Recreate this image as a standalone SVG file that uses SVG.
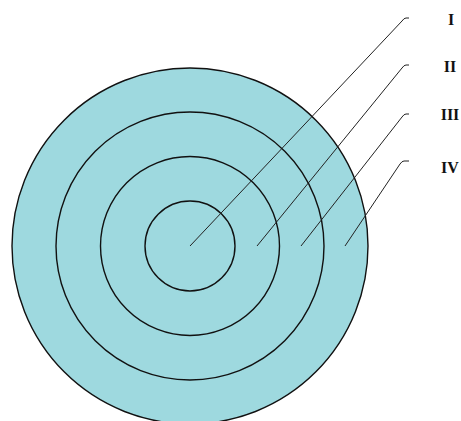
<svg xmlns="http://www.w3.org/2000/svg" width="461" height="421" viewBox="0 0 461 421">
<style>
.ring{fill:none;stroke:#111;stroke-width:1.4}
.lead{fill:none;stroke:#222;stroke-width:1}
.lbl{font-family:"Liberation Serif",serif;font-weight:bold;font-size:16px;fill:#111;text-anchor:middle}
</style>
<rect width="461" height="421" fill="#fff"/>
<g id="disc">
<circle cx="190" cy="246" r="178" fill="#9ed9df" stroke="#111" stroke-width="1.4"/>
</g>
<g id="ring3"><circle class="ring" cx="190" cy="246" r="134"/></g>
<g id="ring2"><circle class="ring" cx="190" cy="246" r="89.5"/></g>
<g id="ring1"><circle class="ring" cx="190" cy="246" r="45"/></g>
<g id="connectors">
<path class="lead" d="M190,246 L402,21 Q404,18 406,18 L409,18"/>
<path class="lead" d="M257,246 L402,68 Q404,65 406,65 L409,65"/>
<path class="lead" d="M301,246 L402,117 Q404,114 406,114 L409,114"/>
<path class="lead" d="M345,246 L400,164 Q402,161 404,161 L409,161"/>
</g>
<g id="label-I"><text class="lbl" x="451" y="25">I</text></g>
<g id="label-II"><text class="lbl" x="450" y="72">II</text></g>
<g id="label-III"><text class="lbl" x="450" y="120">III</text></g>
<g id="label-IV"><text class="lbl" x="450" y="173">IV</text></g>
</svg>
